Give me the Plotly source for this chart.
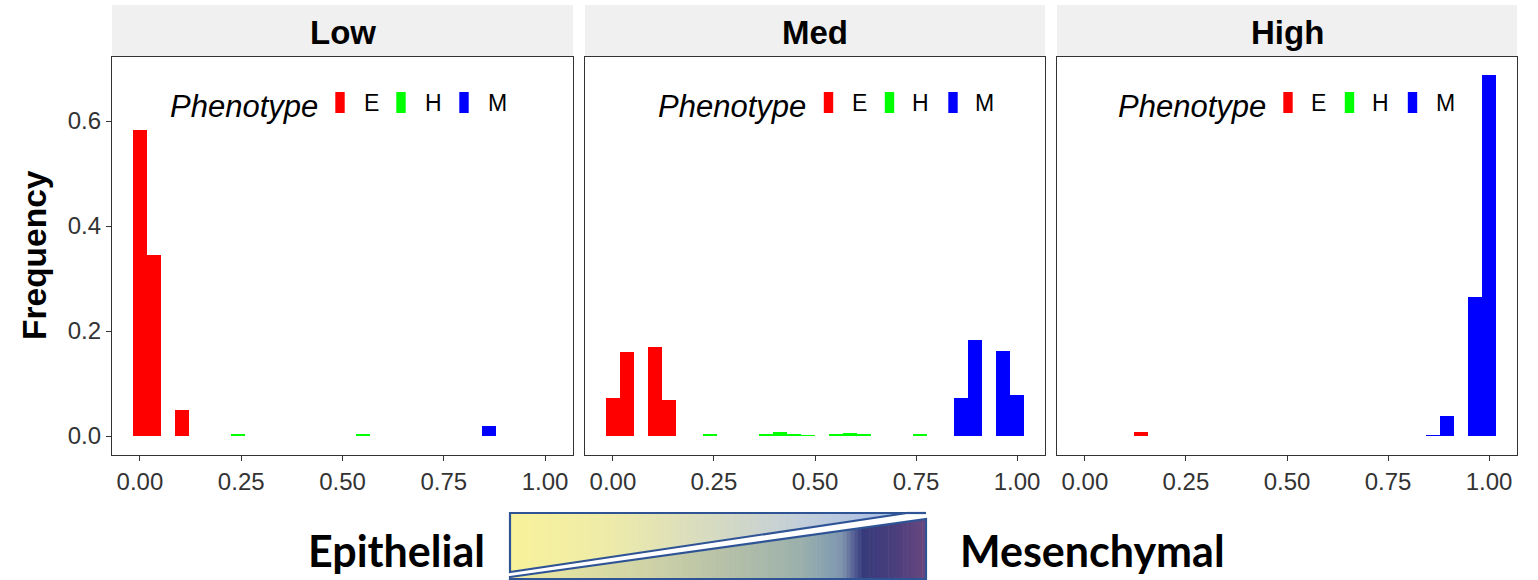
import plotly.graph_objects as go

# ---------------- data ----------------
panels = ["Low", "Med", "High"]
phenotypes = ["E", "H", "M"]
bin_width = 1 / 29          # histogram bin width (30 bins, centres 0 .. 1)
x_tick_vals = [0, 0.25, 0.5, 0.75, 1.0]
x_tick_text = ["0.00", "0.25", "0.50", "0.75", "1.00"]
y_tick_vals = [0.0, 0.2, 0.4, 0.6]
y_tick_text = ["0.0", "0.2", "0.4", "0.6"]

# bin indices (centre = index * bin_width) and frequencies
low_E_bins = [0, 1, 3]
low_E_freq = [0.582, 0.344, 0.050]
low_H_bins = [7, 16]
low_H_freq = [0.003, 0.003]
low_M_bins = [25]
low_M_freq = [0.020]

med_E_bins = [0, 1, 3, 4]
med_E_freq = [0.073, 0.160, 0.170, 0.068]
med_H_bins = [7, 11, 12, 13, 14, 16, 17, 18, 22]
med_H_freq = [0.004, 0.003, 0.0075, 0.004, 0.0008, 0.0025, 0.0055, 0.003, 0.0045]
med_M_bins = [25, 26, 28, 29]
med_M_freq = [0.073, 0.182, 0.161, 0.078]

high_E_bins = [4]
high_E_freq = [0.008]
high_H_bins = []
high_H_freq = []
high_M_bins = [25, 26, 28, 29]
high_M_freq = [0.0015, 0.038, 0.264, 0.687]

panel_data = {
    "Low": {"E": (low_E_bins, low_E_freq), "H": (low_H_bins, low_H_freq), "M": (low_M_bins, low_M_freq)},
    "Med": {"E": (med_E_bins, med_E_freq), "H": (med_H_bins, med_H_freq), "M": (med_M_bins, med_M_freq)},
    "High": {"E": (high_E_bins, high_E_freq), "H": (high_H_bins, high_H_freq), "M": (high_M_bins, high_M_freq)},
}
pheno_colors = {"E": "#FF0000", "H": "#00FF00", "M": "#0000FF"}

# ---------------- layout helpers ----------------
W, H = 1538, 580
def PX(x):
    return x / W
def PY(y):
    return 1 - y / H

FONT = "Liberation Sans, Arial, sans-serif"
panel_px = [(112, 573), (585, 1045), (1057, 1517)]
plot_top, plot_bot = 57, 455
strip_top = 5

fig = go.Figure()

for i, p in enumerate(panels):
    xa = "x" if i == 0 else f"x{i+1}"
    ya = "y" if i == 0 else f"y{i+1}"
    for ph in phenotypes:
        bins, freq = panel_data[p][ph]
        fig.add_trace(go.Bar(
            x=[b * bin_width for b in bins], y=freq, width=bin_width,
            marker=dict(color=pheno_colors[ph], line=dict(width=0)),
            xaxis=xa, yaxis=ya, showlegend=False, name=ph,
        ))

layout = dict(
    width=W, height=H, margin=dict(l=0, r=0, t=0, b=0),
    paper_bgcolor="white", plot_bgcolor="white",
    barmode="stack", bargap=0, showlegend=False,
)
for i in range(3):
    xk = "xaxis" if i == 0 else f"xaxis{i+1}"
    yk = "yaxis" if i == 0 else f"yaxis{i+1}"
    x0, x1 = panel_px[i]
    layout[xk] = dict(
        domain=[PX(x0), PX(x1)], anchor="y" if i == 0 else f"y{i+1}",
        range=[-0.0690, 1.0690], tickvals=x_tick_vals, ticktext=x_tick_text,
        ticks="outside", ticklen=5, tickwidth=1.2, tickcolor="#333333",
        showline=True, mirror=True, linecolor="#333333", linewidth=1.2,
        showgrid=False, zeroline=False, fixedrange=True,
        tickfont=dict(family=FONT, size=24, color="#333333"),
    )
    ydict = dict(
        domain=[PY(plot_bot), PY(plot_top)], anchor="x" if i == 0 else f"x{i+1}",
        range=[-0.0362, 0.7219],
        showline=True, mirror=True, linecolor="#333333", linewidth=1.2,
        showgrid=False, zeroline=False, fixedrange=True,
        tickfont=dict(family=FONT, size=24, color="#333333"),
    )
    if i == 0:
        ydict.update(tickvals=y_tick_vals, ticktext=y_tick_text, ticks="outside",
                     ticklen=5, tickwidth=1.2, tickcolor="#333333")
    else:
        ydict.update(tickvals=y_tick_vals, showticklabels=False, ticks="")
    layout[yk] = ydict

shapes = []
annotations = []

# strips
for i, p in enumerate(panels):
    x0, x1 = panel_px[i]
    shapes.append(dict(type="rect", xref="paper", yref="paper",
                       x0=PX(x0), x1=PX(x1), y0=PY(plot_top), y1=PY(strip_top),
                       fillcolor="#F0F0F0", line=dict(width=0), layer="below"))
    annotations.append(dict(text=f"<b>{p}</b>", xref="paper", yref="paper",
                            x=PX((x0 + x1) / 2), y=PY(32), xanchor="center", yanchor="middle",
                            showarrow=False, font=dict(family=FONT, size=33, color="black")))

# in-panel legends
legend_pos = [
    dict(title=243.5, keys=[340, 401, 464], labels=[371, 433, 497]),
    dict(title=731.5, keys=[828.5, 889.5, 953], labels=[859, 920.5, 985]),
    dict(title=1192, keys=[1288, 1349.5, 1412.5], labels=[1318.5, 1380.5, 1445]),
]
for lp in legend_pos:
    annotations.append(dict(text="<i>Phenotype</i>", xref="paper", yref="paper",
                            x=PX(lp["title"]), y=PY(106), xanchor="center", yanchor="middle",
                            showarrow=False, font=dict(family=FONT, size=31, color="black")))
    for ph, kx, lx in zip(phenotypes, lp["keys"], lp["labels"]):
        shapes.append(dict(type="rect", xref="paper", yref="paper",
                           x0=PX(kx - 4.7), x1=PX(kx + 4.7), y0=PY(113), y1=PY(92),
                           fillcolor=pheno_colors[ph], line=dict(width=0)))
        annotations.append(dict(text=ph, xref="paper", yref="paper",
                                x=PX(lx), y=PY(103), xanchor="center", yanchor="middle",
                                showarrow=False, font=dict(family=FONT, size=23, color="black")))

# y-axis title
annotations.append(dict(text="<b>Frequency</b>", xref="paper", yref="paper",
                        x=PX(34), y=PY(255), xanchor="center", yanchor="middle",
                        textangle=-90, showarrow=False,
                        font=dict(family=FONT, size=33.5, color="black")))

# bottom E -> M gradient graphic
BX0, BX1, BTOP, BBOT = 510, 926, 513, 579
up_end = 907           # where the upper diagonal meets the top edge
up_left_y = 572        # upper diagonal at left edge
lo_left_y = 577        # lower diagonal at left edge
lo_right_y = 519       # lower diagonal at right edge

def hex2rgb(h):
    h = h.lstrip("#")
    return tuple(int(h[k:k + 2], 16) for k in (0, 2, 4))

def interp(stops, t):
    for (t0, c0), (t1, c1) in zip(stops[:-1], stops[1:]):
        if t <= t1:
            f = 0 if t1 == t0 else (t - t0) / (t1 - t0)
            a, b = hex2rgb(c0), hex2rgb(c1)
            return "rgb(%d,%d,%d)" % tuple(round(a[k] + (b[k] - a[k]) * f) for k in range(3))
    return "rgb(%d,%d,%d)" % hex2rgb(stops[-1][1])

upper_stops = [(0.0, "#F8F29A"), (0.25, "#EEEBA9"), (0.5, "#D7DBC0"), (0.72, "#C3CFD8"), (1.0, "#A6BBE8")]
lower_stops = [(0.0, "#EDEAA0"), (0.3, "#D2D5A5"), (0.5, "#B8C2A7"), (0.7, "#9BB0AC"),
               (0.76, "#88A2B0"), (0.80, "#7F93AE"), (0.83, "#4E5890"), (0.85, "#373B7B"),
               (0.93, "#4C3F7D"), (1.0, "#6A4880")]

def yU(x):
    return up_left_y + (BTOP - up_left_y) * (x - BX0) / (up_end - BX0)

def yL(x):
    return lo_left_y + (lo_right_y - lo_left_y) * (x - BX0) / (BX1 - BX0)

def path(pts):
    return "M " + " L ".join(f"{PX(a):.6f},{PY(b):.6f}" for a, b in pts) + " Z"

N = 110
for k in range(N):
    xa = BX0 + (up_end - BX0) * k / N
    xb = BX0 + (up_end - BX0) * (k + 1) / N
    xbb = min(xb + 0.6, up_end)
    t = ((xa + xb) / 2 - BX0) / (up_end - BX0)
    shapes.append(dict(type="path", xref="paper", yref="paper",
                       path=path([(xa, BTOP), (xbb, BTOP), (xbb, yU(xbb)), (xa, yU(xa))]),
                       fillcolor=interp(upper_stops, t), line=dict(width=0)))
for k in range(N):
    xa = BX0 + (BX1 - BX0) * k / N
    xb = BX0 + (BX1 - BX0) * (k + 1) / N
    xbb = min(xb + 0.6, BX1)
    t = ((xa + xb) / 2 - BX0) / (BX1 - BX0)
    shapes.append(dict(type="path", xref="paper", yref="paper",
                       path=path([(xa, yL(xa)), (xbb, yL(xbb)), (xbb, BBOT), (xa, BBOT)]),
                       fillcolor=interp(lower_stops, t), line=dict(width=0)))

edge = dict(color="#2F5496", width=2.2)
shapes.append(dict(type="path", xref="paper", yref="paper",
                   path=path([(BX0, BTOP), (up_end, BTOP), (BX0, up_left_y)]), line=edge))
shapes.append(dict(type="line", xref="paper", yref="paper",
                   x0=PX(up_end), x1=PX(BX1), y0=PY(BTOP), y1=PY(BTOP), line=edge))
shapes.append(dict(type="path", xref="paper", yref="paper",
                   path=path([(BX0, lo_left_y), (BX1, lo_right_y), (BX1, BBOT), (BX0, BBOT)]), line=edge))

annotations.append(dict(text="<b>Epithelial</b>", xref="paper", yref="paper",
                        x=PX(396.5), y=PY(550), xanchor="center", yanchor="middle",
                        showarrow=False, font=dict(family="Lato, Noto Sans, sans-serif", size=43, color="black")))
annotations.append(dict(text="<b>Mesenchymal</b>", xref="paper", yref="paper",
                        x=PX(1092.5), y=PY(550), xanchor="center", yanchor="middle",
                        showarrow=False, font=dict(family="Lato, Noto Sans, sans-serif", size=43, color="black")))

layout["shapes"] = shapes
layout["annotations"] = annotations
fig.update_layout(**layout)

fig.write_html("out.html", config={"displayModeBar": False},
               post_script="document.body.style.margin='0px';")
